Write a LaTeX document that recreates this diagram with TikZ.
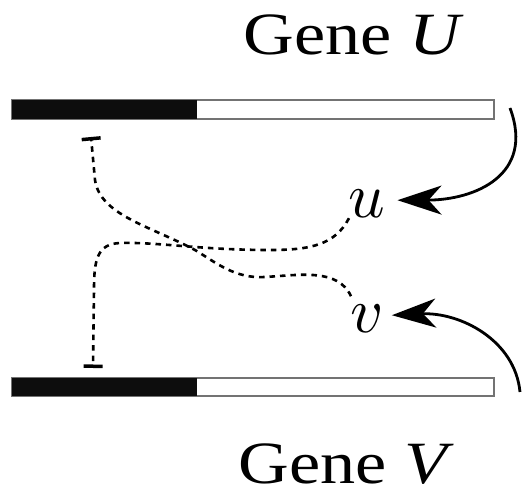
\documentclass[tikz,border=0pt]{standalone}
\usepackage{fontspec}
\setmainfont{Liberation Serif}
\usetikzlibrary{arrows.meta}
\tikzset{
  genebar/.style={draw=black!55, line width=1.6pt, fill=white},
  genefill/.style={fill=black!95},
  genelabel/.style={anchor=base, inner sep=0pt, font=\fontsize{60}{60}\selectfont},
  prod/.style={inner sep=0pt},
  act/.style={line width=2.8pt, -{Stealth[length=44pt, width=29pt, inset=13pt]}},
  inhib/.style={line width=2.6pt, dash pattern=on 5.5pt off 5pt, -{Bar[width=19pt, line width=3.5pt]}}
}
\begin{document}
\begin{tikzpicture}[x=1pt, y=-1pt]
\useasboundingbox (0,0) rectangle (531,497);
% gene bars
\draw[genebar] (12,100) rectangle (494,119);
\fill[genefill] (12,100) rectangle (197,119);
\draw[genebar] (12,378) rectangle (494,396);
\fill[genefill] (12,378) rectangle (197,396);
% labels
\node[genelabel] (geneU) at (354,55) {\scalebox{1.17}[1]{Gene \textit{U}}};
\node[genelabel] (geneV) at (346,484) {\scalebox{1.17}[1]{Gene \textit{V}}};
\node[prod, anchor=base] (u) at (367,218) {\scalebox{6.4}{$u$}};
\node[prod, anchor=base] (v) at (367,333) {\scalebox{6.4}{$v$}};
% end coordinates
\coordinate (srcU) at (513,108);
\coordinate (srcV) at (520,392);
\coordinate (inhU) at (91,137);
\coordinate (inhV) at (93,368);
% activation arrows
\draw[act] ([xshift=-3pt]srcU) .. controls (535,175) and (475,200) .. ([xshift=12pt,yshift=4pt]u.east);
\draw[act] (srcV) .. controls (515,340) and (460,312) .. ([xshift=8pt,yshift=4pt]v.east);
% inhibition (dashed)
\draw[inhib] ([xshift=-16pt,yshift=9pt]v.north) .. controls (338,268) and (300,275) .. (265,277)
   .. controls (235,279) and (215,262) .. (195,250)
   .. controls (150,226) and (100,215) .. (95,180)
   -- (inhU);
\draw[inhib] ([xshift=-18pt,yshift=0pt]u.south) .. controls (335,245) and (310,250) .. (270,250)
   .. controls (200,250) and (160,242) .. (120,243)
   .. controls (97,244) and (94,260) .. (94,290)
   -- (inhV);
\end{tikzpicture}
\end{document}
